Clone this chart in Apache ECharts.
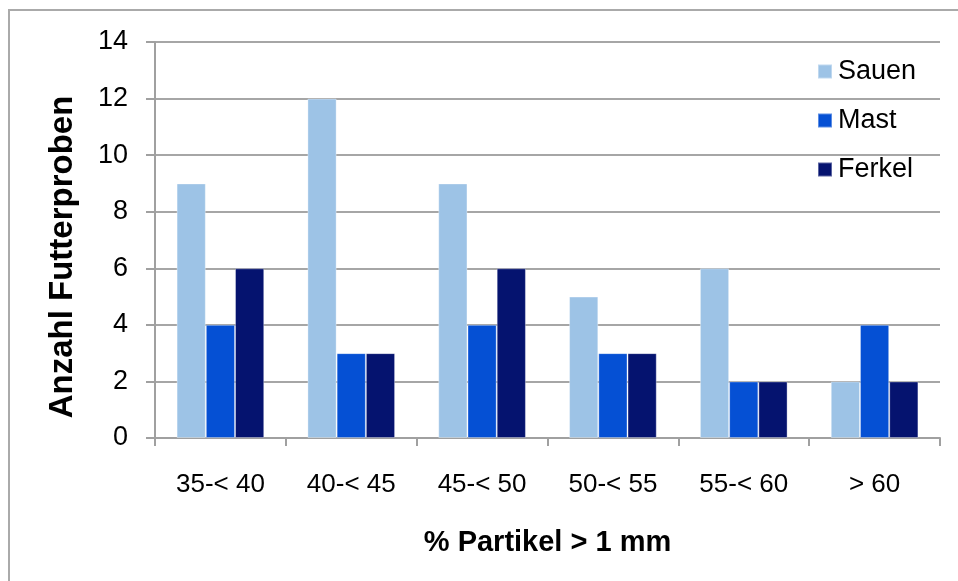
<!DOCTYPE html>
<html>
<head>
<meta charset="utf-8">
<script src="https://cdn.jsdelivr.net/npm/echarts@6/dist/echarts.min.js"></script>
<style>
  html, body { margin: 0; padding: 0; background: #fff; }
  #chart { width: 958px; height: 581px; }
</style>
</head>
<body>
<div id="chart"></div>
<script>
// Kategorien (% Partikel > 1 mm)
const categories = ['35-< 40', '40-< 45', '45-< 50', '50-< 55', '55-< 60', '> 60'];
// Anzahl Futterproben je Gruppe
const sauen = [9, 12, 9, 5, 6, 2];
const mast = [4, 3, 4, 3, 2, 4];
const ferkel = [6, 3, 6, 3, 2, 2];
const yTicks = [0, 2, 4, 6, 8, 10, 12, 14];

const font = '"Liberation Sans", Arial, Helvetica, sans-serif';
const chart = echarts.init(document.getElementById('chart'));

function barSeries(name, data, color) {
    return {
        name: name,
        type: 'bar',
        data: data,
        barGap: '0%',
        barCategoryGap: '33%',
        itemStyle: {
            color: color,
            borderColor: 'rgba(255,255,255,0.35)',
            borderWidth: 1
        }
    };
}

chart.setOption({
    animation: false,
    textStyle: { fontFamily: font },
    graphic: [{
        // Rahmen um das Diagramm (nur links und oben sichtbar)
        type: 'rect',
        shape: { x: 9, y: 10, width: 1000, height: 700 },
        style: { fill: 'none', stroke: '#aaaaaa', lineWidth: 2 },
        silent: true
    }],
    grid: { left: 155, right: 18, top: 42, bottom: 143 },
    legend: {
        orient: 'vertical',
        left: 812,
        top: 53,
        itemWidth: 14,
        itemHeight: 14,
        itemGap: 22,
        icon: 'rect',
        textStyle: { fontSize: 27, color: '#000', fontFamily: font, padding: [0, 0, 0, 1] },
        data: ['Sauen', 'Mast', 'Ferkel']
    },
    xAxis: {
        type: 'category',
        data: categories,
        name: '% Partikel > 1 mm',
        nameLocation: 'middle',
        nameGap: 90,
        nameTextStyle: { fontSize: 29, fontWeight: 'bold', color: '#000', fontFamily: font },
        axisLine: { lineStyle: { color: '#a0a0a0', width: 2 } },
        axisTick: { show: true, length: 8, lineStyle: { color: '#a0a0a0', width: 2 } },
        axisLabel: { fontSize: 26, color: '#000', margin: 34, fontFamily: font }
    },
    yAxis: {
        type: 'value',
        min: yTicks[0],
        max: yTicks[yTicks.length - 1],
        interval: 2,
        name: 'Anzahl Futterproben',
        nameLocation: 'middle',
        nameGap: 76,
        nameTextStyle: {
            fontSize: 33, fontWeight: 'bold', color: '#000', fontFamily: font,
            padding: [0, 34, 0, 0]
        },
        axisLine: { show: true, lineStyle: { color: '#a0a0a0', width: 2 } },
        axisTick: { show: true, length: 9, lineStyle: { color: '#a0a0a0', width: 2 } },
        axisLabel: { fontSize: 27, color: '#000', margin: 27, fontFamily: font },
        splitLine: { lineStyle: { color: '#a6a6a6', width: 2 } }
    },
    series: [
        barSeries('Sauen', sauen, '#9dc3e6'),
        barSeries('Mast', mast, '#0550d4'),
        barSeries('Ferkel', ferkel, '#05136f')
    ]
});
</script>
</body>
</html>
